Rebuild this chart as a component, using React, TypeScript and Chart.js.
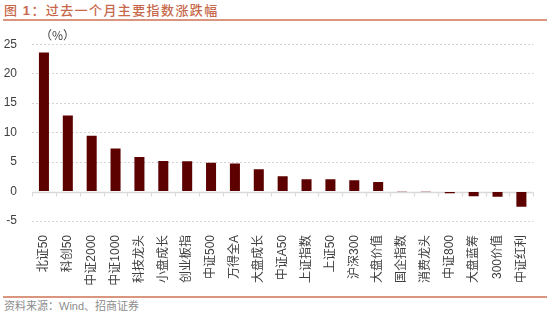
import React, { useEffect, useRef } from "react";
import { Chart, registerables } from "chart.js";

Chart.register(...registerables);

const categories: string[] = [
  "北证50", "科创50", "中证2000", "中证1000", "科技龙头", "小盘成长", "创业板指",
  "中证500", "万得全A", "大盘成长", "中证A50", "上证指数", "上证50", "沪深300",
  "大盘价值", "国企指数", "消费龙头", "中证800", "大盘蓝筹", "300价值", "中证红利",
];

const changes: number[] = [
  23.6, 12.9, 9.45, 7.3, 5.85, 5.2, 5.15, 4.9, 4.75, 3.8, 2.6,
  2.1, 2.1, 1.9, 1.6, 0.05, -0.02, -0.28, -0.82, -0.88, -2.6,
];

const yTicks: number[] = [-5, 0, 5, 10, 15, 20, 25];

const zeroLinePlugin = {
  id: "zeroLine",
  beforeDatasetsDraw(chart: any) {
    const { ctx, chartArea, scales } = chart;
    const y0 = Math.round(scales.y.getPixelForValue(0)) + 0.5;
    const n = categories.length;
    const w = (chartArea.right - chartArea.left) / n;
    ctx.save();
    ctx.strokeStyle = "#D9D9D9";
    ctx.lineWidth = 1.5;
    ctx.beginPath();
    ctx.moveTo(chartArea.left, y0);
    ctx.lineTo(chartArea.right, y0);
    ctx.stroke();
    ctx.lineWidth = 1;
    ctx.beginPath();
    for (let i = 0; i <= n; i++) {
      const x = Math.round(chartArea.left + i * w) + 0.5;
      ctx.moveTo(x, y0);
      ctx.lineTo(x, y0 + 4);
    }
    ctx.stroke();
    ctx.restore();
  },
};

export default function App() {
  const ref = useRef<HTMLCanvasElement>(null);

  useEffect(() => {
    document.body.style.margin = "0";
    const chart = new Chart(ref.current!, {
      type: "bar",
      data: {
        labels: categories,
        datasets: [
          {
            data: changes,
            backgroundColor: "#5C0000",
            borderWidth: 0,
            categoryPercentage: 1,
            barPercentage: 0.42,
          },
        ],
      },
      options: {
        animation: false,
        responsive: false,
        maintainAspectRatio: false,
        layout: { padding: { top: 14, right: 9, left: 0, bottom: 0 } },
        plugins: { legend: { display: false }, tooltip: { enabled: false } },
        scales: {
          x: {
            grid: { display: false, drawTicks: false },
            border: { display: false },
            ticks: {
              autoSkip: false,
              maxRotation: 90,
              minRotation: 90,
              padding: 14,
              color: "#404040",
              font: { family: "'Liberation Sans', 'Noto Sans CJK SC', sans-serif", size: 12 },
            },
            afterFit(scale: any) {
              scale.height = 73;
            },
          },
          y: {
            min: -5,
            max: 25,
            afterBuildTicks(scale: any) {
              scale.ticks = yTicks.map((v) => ({ value: v }));
            },
            grid: {
              drawTicks: false,
              color: (c: any) => (c.tick && c.tick.value === 0 ? "rgba(0,0,0,0)" : "#D4D4D4"),
              lineWidth: 1,
            },
            border: { display: false, dash: [2, 2] },
            ticks: {
              padding: 15,
              color: "#404040",
              font: { family: "'Liberation Sans', Arial, sans-serif", size: 12 },
            },
            afterFit(scale: any) {
              scale.width = 32;
            },
          },
        },
      },
      plugins: [zeroLinePlugin],
    });
    return () => chart.destroy();
  }, []);

  return (
    <div
      style={{
        position: "fixed",
        left: 0,
        top: 0,
        width: 550,
        height: 314,
        background: "#fff",
        overflow: "hidden",
        fontFamily: "'Noto Sans CJK SC', sans-serif",
      }}
    >
      <div
        style={{
          position: "absolute",
          left: 4,
          top: 1,
          fontSize: 13,
          lineHeight: "17px",
          color: "#C8684A",
          fontWeight: 500,
          letterSpacing: 1.4,
          whiteSpace: "nowrap",
        }}
      >
        图 <span style={{ fontFamily: "'Liberation Sans', Arial, sans-serif", fontWeight: 700 }}>1</span>：过去一个月主要指数涨跌幅
      </div>
      <div style={{ position: "absolute", left: 3, top: 19, width: 544, height: 1.5, background: "#D9957E" }} />
      <canvas
        ref={ref}
        width={550}
        height={272}
        style={{ position: "absolute", left: 0, top: 22, width: 550, height: 272 }}
      />
      <div
        style={{
          position: "absolute",
          left: 40,
          top: 28,
          fontSize: 12,
          lineHeight: "14px",
          color: "#404040",
          fontFamily: "'Noto Sans CJK SC', sans-serif",
          whiteSpace: "nowrap",
        }}
      >
        （%）
      </div>
      <div style={{ position: "absolute", left: 3, top: 296, width: 544, height: 1.5, background: "#D9957E" }} />
      <div
        style={{
          position: "absolute",
          left: 4,
          top: 298,
          fontSize: 11,
          lineHeight: "15px",
          color: "#8C8C8C",
          whiteSpace: "nowrap",
        }}
      >
        资料来源：<span style={{ fontFamily: "'Liberation Sans', Arial, sans-serif" }}>Wind</span>、招商证券
      </div>
    </div>
  );
}
